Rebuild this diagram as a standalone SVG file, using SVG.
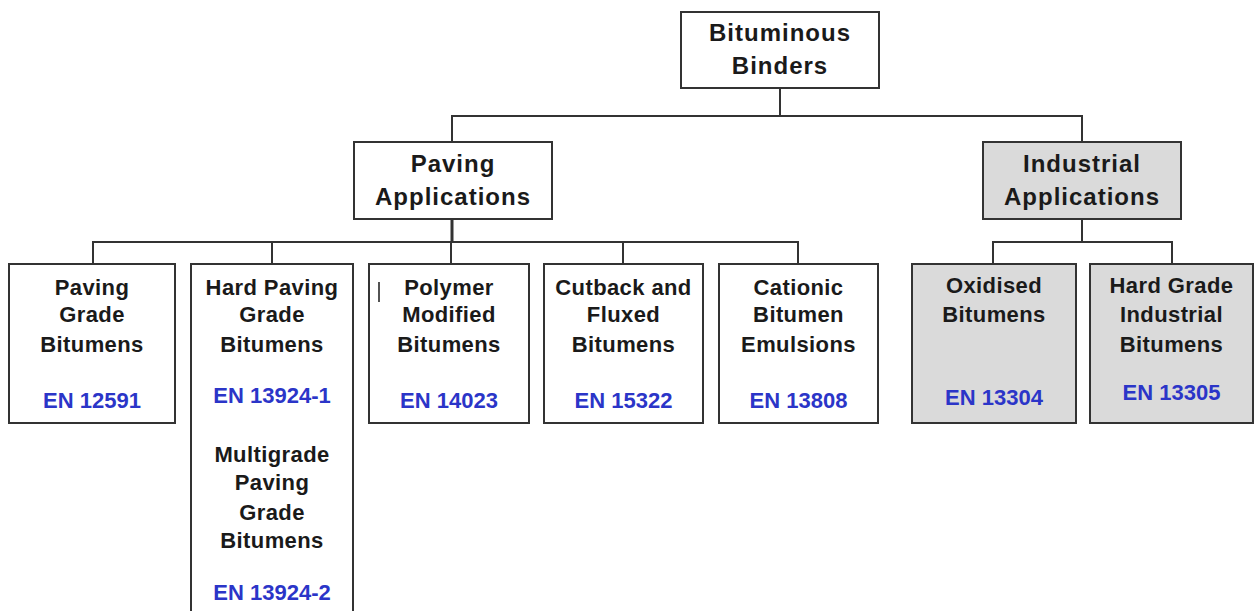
<svg xmlns="http://www.w3.org/2000/svg" width="1255" height="611" viewBox="0 0 1255 611">
<style>
.box{fill:#ffffff;stroke:#333333;stroke-width:2}
.gray{fill:#dadada;stroke:#333333;stroke-width:2}
.t1{font-family:"Liberation Sans",Arial,sans-serif;font-weight:bold;font-size:24px;fill:#1a1a1a;text-anchor:middle;letter-spacing:1px}
.t2{font-family:"Liberation Sans",Arial,sans-serif;font-weight:bold;font-size:22px;fill:#1a1a1a;text-anchor:middle;letter-spacing:0.4px}
.en{font-family:"Liberation Sans",Arial,sans-serif;font-weight:bold;font-size:22px;fill:#2b35c8;text-anchor:middle}
.c{fill:none;stroke:#333333;stroke-width:2}
</style>
<rect width="1255" height="611" fill="#ffffff"/>
<g id="connectors">
<polyline class="c" points="780,88 780,116"/>
<polyline class="c" points="452,142 452,116 1082,116 1082,142"/>
<polyline class="c" points="452,219 452,242" style="stroke-width:3"/>
<polyline class="c" points="93,264 93,242 798,242 798,264"/>
<line class="c" x1="272" y1="242" x2="272" y2="264"/>
<line class="c" x1="451" y1="242" x2="451" y2="264"/>
<line class="c" x1="623" y1="242" x2="623" y2="264"/>
<polyline class="c" points="1082,219 1082,242"/>
<polyline class="c" points="993,264 993,242 1172,242 1172,264"/>
</g>
<g id="bituminous-binders">
<rect class="box" x="681" y="12" width="198" height="76"/>
<text class="t1" x="780" y="41">Bituminous</text>
<text class="t1" x="780" y="74">Binders</text>
</g>
<g id="paving-applications">
<rect class="box" x="354" y="142" width="198" height="77"/>
<text class="t1" x="453" y="172">Paving</text>
<text class="t1" x="453" y="205">Applications</text>
</g>
<g id="industrial-applications">
<rect class="gray" x="983" y="142" width="198" height="77"/>
<text class="t1" x="1082" y="172">Industrial</text>
<text class="t1" x="1082" y="205">Applications</text>
</g>
<g id="paving-grade">
<rect class="box" x="9" y="264" width="166" height="159"/>
<text class="t2" x="92" y="295">Paving</text>
<text class="t2" x="92" y="322">Grade</text>
<text class="t2" x="92" y="352">Bitumens</text>
<text class="en" x="92" y="408">EN 12591</text>
</g>
<g id="hard-paving-grade">
<rect class="box" x="191" y="264" width="162" height="360"/>
<text class="t2" x="272" y="295">Hard Paving</text>
<text class="t2" x="272" y="322">Grade</text>
<text class="t2" x="272" y="352">Bitumens</text>
<text class="en" x="272" y="403">EN 13924-1</text>
<text class="t2" x="272" y="462">Multigrade</text>
<text class="t2" x="272" y="490">Paving</text>
<text class="t2" x="272" y="520">Grade</text>
<text class="t2" x="272" y="548">Bitumens</text>
<text class="en" x="272" y="600">EN 13924-2</text>
</g>
<g id="polymer-modified">
<rect class="box" x="369" y="264" width="160" height="159"/>
<line x1="379" y1="282" x2="379" y2="302" stroke="#1a1a1a" stroke-width="1.5"/>
<text class="t2" x="449" y="295">Polymer</text>
<text class="t2" x="449" y="322">Modified</text>
<text class="t2" x="449" y="352">Bitumens</text>
<text class="en" x="449" y="408">EN 14023</text>
</g>
<g id="cutback-fluxed">
<rect class="box" x="544" y="264" width="159" height="159"/>
<text class="t2" x="623.5" y="295">Cutback and</text>
<text class="t2" x="623.5" y="322">Fluxed</text>
<text class="t2" x="623.5" y="352">Bitumens</text>
<text class="en" x="623.5" y="408">EN 15322</text>
</g>
<g id="cationic-emulsions">
<rect class="box" x="719" y="264" width="159" height="159"/>
<text class="t2" x="798.5" y="295">Cationic</text>
<text class="t2" x="798.5" y="322">Bitumen</text>
<text class="t2" x="798.5" y="352">Emulsions</text>
<text class="en" x="798.5" y="408">EN 13808</text>
</g>
<g id="oxidised">
<rect class="gray" x="912" y="264" width="164" height="159"/>
<text class="t2" x="994" y="293">Oxidised</text>
<text class="t2" x="994" y="322">Bitumens</text>
<text class="en" x="994" y="405">EN 13304</text>
</g>
<g id="hard-grade-industrial">
<rect class="gray" x="1090" y="264" width="163" height="159"/>
<text class="t2" x="1171.5" y="293">Hard Grade</text>
<text class="t2" x="1171.5" y="322">Industrial</text>
<text class="t2" x="1171.5" y="352">Bitumens</text>
<text class="en" x="1171.5" y="400">EN 13305</text>
</g>
</svg>
